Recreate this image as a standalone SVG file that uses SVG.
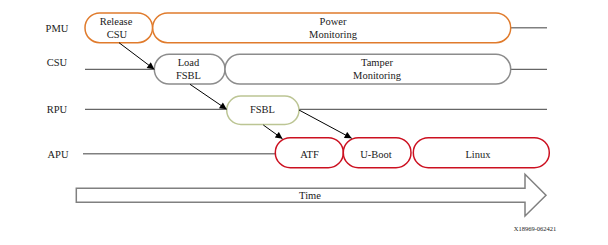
<svg xmlns="http://www.w3.org/2000/svg" width="608" height="245" viewBox="0 0 608 245">
  <style>
    text { font-family: "Liberation Serif", "Times New Roman", serif; font-size: 10.5px; fill: #1a1a1a; text-anchor: middle; }
    .lane { stroke: #404040; stroke-width: 1; fill: none; }
    .lane-g { stroke: #808080; stroke-width: 1.5; fill: none; }
    .pmu { fill: #fff; stroke: #e07b2c; stroke-width: 1.5; }
    .csu { fill: #fff; stroke: #8c8c8c; stroke-width: 1.5; }
    .rpu { fill: #fff; stroke: #bcc594; stroke-width: 1.5; }
    .apu { fill: #fff; stroke: #cc1020; stroke-width: 1.5; }
    .flow { stroke: #000; stroke-width: 1; fill: none; marker-end: url(#arrow); }
    .small { font-size: 6.5px; }
  </style>
  <defs>
    <marker id="arrow" viewBox="0 0 10 10" refX="10" refY="5" markerWidth="9" markerHeight="7" markerUnits="userSpaceOnUse" orient="auto">
      <path d="M0,0 L10,5 L0,10 z" fill="#000"/>
    </marker>
  </defs>

  <!-- row labels -->
  <g id="labels">
    <text x="57" y="31.5">PMU</text>
    <text x="57" y="66">CSU</text>
    <text x="57" y="113">RPU</text>
    <text x="58" y="158">APU</text>
  </g>

  <!-- timeline lanes -->
  <g id="lanes">
    <line class="lane-g" x1="510" y1="27.7" x2="547" y2="27.7"/>
    <line class="lane" x1="85" y1="69.3" x2="154" y2="69.3"/>
    <line class="lane" x1="510" y1="69.3" x2="547" y2="69.3"/>
    <line class="lane" x1="85" y1="109.3" x2="227" y2="109.3"/>
    <line class="lane" x1="299" y1="109.3" x2="547" y2="109.3"/>
    <line class="lane-g" x1="83" y1="153.7" x2="275" y2="153.7"/>
  </g>

  <!-- PMU -->
  <g id="release-csu">
    <rect class="pmu" x="85" y="13" width="67.5" height="29.7" rx="14.8"/>
    <text x="116" y="25">Release</text>
    <text x="117" y="38">CSU</text>
  </g>
  <g id="power-monitoring">
    <rect class="pmu" x="152.7" y="13" width="358" height="29.7" rx="14.8"/>
    <text x="333" y="25">Power</text>
    <text x="333" y="38">Monitoring</text>
  </g>

  <!-- CSU -->
  <g id="load-fsbl">
    <rect class="csu" x="154.3" y="54.3" width="70.7" height="29.7" rx="14.8"/>
    <text x="188.5" y="66">Load</text>
    <text x="188.5" y="79">FSBL</text>
  </g>
  <g id="tamper-monitoring">
    <rect class="csu" x="225" y="54.3" width="285.7" height="29.7" rx="14.8"/>
    <text x="377" y="66">Tamper</text>
    <text x="377" y="79">Monitoring</text>
  </g>

  <!-- RPU -->
  <g id="fsbl">
    <rect class="rpu" x="226.7" y="96" width="72.3" height="28.5" rx="14.2"/>
    <text x="262.5" y="113">FSBL</text>
  </g>

  <!-- APU -->
  <g id="atf">
    <rect class="apu" x="275.3" y="137.7" width="68" height="30" rx="15"/>
    <text x="309.5" y="157.5">ATF</text>
  </g>
  <g id="u-boot">
    <rect class="apu" x="343.3" y="137.7" width="67.7" height="30" rx="15"/>
    <text x="376" y="157.5">U-Boot</text>
  </g>
  <g id="linux">
    <rect class="apu" x="413.3" y="137.7" width="136" height="30" rx="15"/>
    <text x="478" y="157.5">Linux</text>
  </g>

  <!-- hand-off arrows -->
  <g id="connectors">
    <line class="flow" x1="119" y1="42.7" x2="154.3" y2="69.3"/>
    <line class="flow" x1="190" y1="84.3" x2="226.7" y2="109.3"/>
    <line class="flow" x1="263.3" y1="125" x2="282.5" y2="138.8"/>
    <line class="flow" x1="299" y1="110" x2="351.7" y2="138.3"/>
  </g>

  <!-- time axis -->
  <g id="time">
    <path d="M76.3,188.3 H525 V174.3 L546,195.3 L525,216 V202.3 H76.3 Z" fill="#fff" stroke="#808080" stroke-width="1.5"/>
    <text x="310" y="198.7">Time</text>
  </g>

  <text class="small" x="535" y="231">X18969-062421</text>
</svg>
